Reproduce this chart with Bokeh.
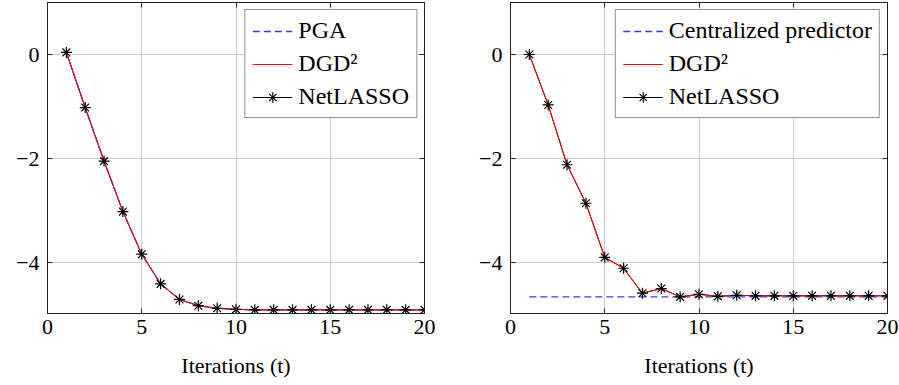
from bokeh.plotting import figure
from bokeh.layouts import row
from bokeh.models import Range1d, LinearAxis, Legend, LegendItem, FixedTicker
from bokeh.embed import file_html
from bokeh.resources import INLINE

t = list(range(1, 21))
x_ticks = [0, 5, 10, 15, 20]
y_ticks = [0, -2, -4]
y_tick_labels = {0: "0", -2: "\u22122", -4: "\u22124"}

# Left panel
pga = [0.04, -1.02, -2.05, -3.02, -3.84, -4.41, -4.71, -4.83, -4.88, -4.90,
       -4.91, -4.91, -4.91, -4.91, -4.91, -4.91, -4.91, -4.91, -4.91, -4.91]
dgd_left = [0.04, -1.02, -2.05, -3.02, -3.84, -4.41, -4.71, -4.83, -4.88, -4.90,
            -4.91, -4.91, -4.91, -4.91, -4.91, -4.91, -4.91, -4.91, -4.91, -4.91]
netlasso_left = [0.04, -1.02, -2.05, -3.02, -3.84, -4.41, -4.71, -4.83, -4.88, -4.90,
                 -4.91, -4.91, -4.91, -4.91, -4.91, -4.91, -4.91, -4.91, -4.91, -4.91]

# Right panel
centralized = [-4.66] * 20
dgd_right = [0.0, -0.97, -2.12, -2.86, -3.90, -4.11, -4.59, -4.50, -4.66, -4.61,
             -4.65, -4.63, -4.64, -4.64, -4.64, -4.64, -4.64, -4.64, -4.64, -4.64]
netlasso_right = [0.0, -0.97, -2.12, -2.86, -3.90, -4.11, -4.59, -4.50, -4.66, -4.61,
                  -4.65, -4.63, -4.64, -4.64, -4.64, -4.64, -4.64, -4.64, -4.64, -4.64]

FONT = "Liberation Serif"
TICK_FS = "22px"
LABEL_FS = "22px"
LEGEND_FS = "24px"
DARK = "#222222"


def make_panel(first_label, first_y, dgd, net, width, border_left, border_right):
    p = figure(width=width, height=385, output_backend="svg", toolbar_location=None,
               x_range=Range1d(0, 20), y_range=Range1d(-4.98, 1.0),
               min_border_left=border_left, min_border_right=border_right,
               min_border_top=2, min_border_bottom=72)
    p.outline_line_color = DARK
    p.outline_line_width = 1
    p.background_fill_color = "white"
    p.border_fill_color = "white"

    p.xaxis.ticker = FixedTicker(ticks=x_ticks)
    p.yaxis.ticker = FixedTicker(ticks=y_ticks)
    for axs in [p.xaxis, p.yaxis]:
        axs.axis_line_color = DARK
        axs.major_tick_in = 5
        axs.major_tick_out = 0
        axs.minor_tick_line_color = None
        axs.major_tick_line_color = DARK
        axs.major_label_text_font = FONT
        axs.major_label_text_font_size = TICK_FS
        axs.major_label_text_color = "black"
    p.yaxis.major_label_overrides = y_tick_labels
    p.xaxis.major_label_standoff = 6
    p.yaxis.major_label_standoff = 8
    p.xaxis.axis_label = "Iterations (t)"
    p.xaxis.axis_label_text_font = FONT
    p.xaxis.axis_label_text_font_size = LABEL_FS
    p.xaxis.axis_label_text_font_style = "normal"
    p.xaxis.axis_label_text_color = "black"
    p.xaxis.axis_label_standoff = 16

    # inside ticks on top and right (no labels)
    top = LinearAxis(ticker=FixedTicker(ticks=x_ticks), major_tick_in=5, major_tick_out=0,
                     minor_tick_line_color=None, major_tick_line_color=DARK,
                     major_label_overrides={v: "" for v in x_ticks},
                     major_label_standoff=0, axis_line_color=DARK)
    right = LinearAxis(ticker=FixedTicker(ticks=y_ticks), major_tick_in=5, major_tick_out=0,
                       minor_tick_line_color=None, major_tick_line_color=DARK,
                       major_label_overrides={v: "" for v in y_ticks},
                       major_label_standoff=0, axis_line_color=DARK)
    p.add_layout(top, "above")
    p.add_layout(right, "right")

    p.grid.grid_line_color = "#cccccc"
    p.grid.grid_line_width = 1
    p.xgrid.ticker = FixedTicker(ticks=x_ticks)
    p.ygrid.ticker = FixedTicker(ticks=y_ticks)

    r_net_line = p.line(t, net, line_color="black", line_width=1)
    r_first = p.line(t, first_y, line_color="#3a3aff", line_width=1.3, line_dash="7 4")
    r_dgd = p.line(t, dgd, line_color="#ff0000", line_width=1)
    r_net_marks = p.scatter(t, net, marker="asterisk", size=11, line_color="black", line_width=1.2)

    legend = Legend(items=[
        LegendItem(label=first_label, renderers=[r_first]),
        LegendItem(label="DGD\u00b2", renderers=[r_dgd]),
        LegendItem(label="NetLASSO", renderers=[r_net_line, r_net_marks]),
    ], location="top_right")
    legend.label_text_font = FONT
    legend.label_text_font_size = LEGEND_FS
    legend.label_text_color = "black"
    legend.border_line_color = DARK
    legend.border_line_width = 1
    legend.background_fill_alpha = 1
    legend.glyph_width = 40
    legend.glyph_height = 26
    legend.label_height = 26
    legend.spacing = 6
    legend.padding = 7
    legend.margin = 7
    legend.label_standoff = 6
    p.add_layout(legend, "center")
    return p


p1 = make_panel("PGA", pga, dgd_left, netlasso_left, 449, 47, 25)
p2 = make_panel("Centralized predictor", centralized, dgd_right, netlasso_right, 450, 61, 12)

layout = row(p1, p2)
open("out.html", "w").write(file_html(layout, INLINE))
